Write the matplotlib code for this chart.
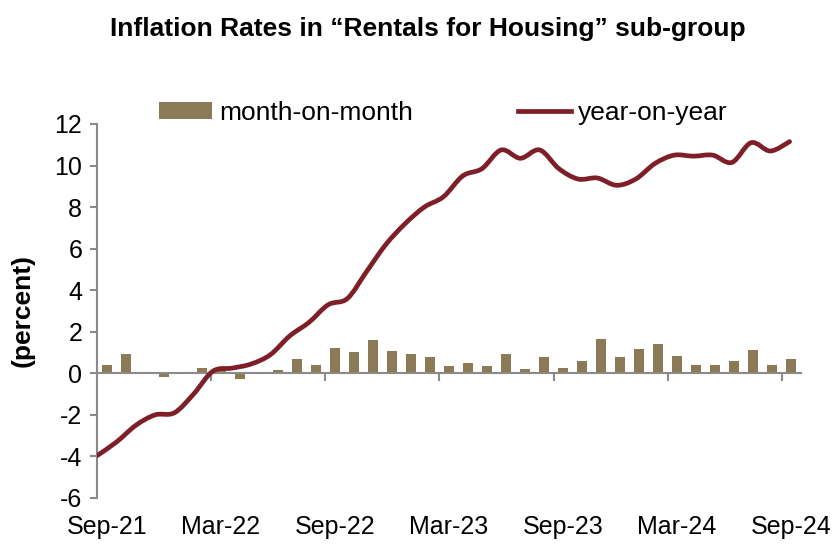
import matplotlib
matplotlib.use("Agg")
import matplotlib.pyplot as plt
from matplotlib.path import Path
from matplotlib.patches import PathPatch, Patch
from matplotlib.lines import Line2D
import numpy as np

plt.rcParams['font.family'] = ['Liberation Sans', 'DejaVu Sans']
plt.rcParams['axes.unicode_minus'] = False

# monthly data, Sep-21 .. Sep-24
mom = [0.40, 0.95, -0.02, -0.18, 0.06, 0.24, 0.15, -0.29, 0.06, 0.14,
       0.70, 0.42, 1.23, 1.04, 1.62, 1.09, 0.95, 0.77, 0.37, 0.50,
       0.35, 0.91, 0.22, 0.80, 0.27, 0.59, 1.65, 0.77, 1.15, 1.39,
       0.83, 0.38, 0.42, 0.61, 1.12, 0.40, 0.70]
yoy = [-3.95, -3.3, -2.5, -2.0, -1.9, -1.0, 0.1, 0.25, 0.45, 0.9,
       1.8, 2.45, 3.3, 3.6, 4.9, 6.2, 7.2, 8.0, 8.5, 9.5,
       9.85, 10.75, 10.35, 10.75, 9.85, 9.35, 9.4, 9.05, 9.35, 10.1,
       10.5, 10.45, 10.5, 10.15, 11.1, 10.7, 11.15]
tick_labels = ['Sep-21', 'Mar-22', 'Sep-22', 'Mar-23', 'Sep-23', 'Mar-24', 'Sep-24']

bar_color = '#8C7955'
line_color = '#7E1F28'
axis_color = '#8A8A8A'


def smooth_path(x, y):
    # bezier path through every data point (like a smoothed excel line)
    pts = np.column_stack([x, y]).astype(float)
    n = len(pts)
    verts = [pts[0]]
    codes = [Path.MOVETO]
    for i in range(n - 1):
        p0 = pts[i - 1] if i > 0 else pts[i]
        p1 = pts[i]
        p2 = pts[i + 1]
        p3 = pts[i + 2] if i + 2 < n else pts[i + 1]
        c1 = p1 + (p2 - p0) / 6.0
        c2 = p2 - (p3 - p1) / 6.0
        verts += [c1, c2, p2]
        codes += [Path.CURVE4] * 3
    return Path(verts, codes)


def main():
    fig = plt.figure(figsize=(8.38, 5.44), dpi=100)
    ax = fig.add_axes([0.1163, 0.0846, 0.8390, 0.6875])

    x = np.arange(len(mom))
    ax.bar(x, mom, width=0.5, color=bar_color, zorder=2)

    ax.set_xlim(-0.5, len(mom) - 0.5)
    ax.set_ylim(-6, 12)
    ax.set_yticks(range(-6, 13, 2))

    for s in ['top', 'right']:
        ax.spines[s].set_visible(False)
    ax.spines['bottom'].set_position(('data', 0))
    ax.spines['left'].set_color(axis_color)
    ax.spines['bottom'].set_color(axis_color)
    ax.spines['left'].set_linewidth(1.5)
    ax.spines['bottom'].set_linewidth(1.5)

    ax.set_xticks(np.arange(5.5, len(mom), 6))
    ax.tick_params(axis='x', length=6, width=1.5, color=axis_color,
                   labelbottom=False)
    ax.tick_params(axis='y', length=5, width=1.5, color=axis_color,
                   labelsize=18, pad=6)

    # date labels sit at the bottom of the plot
    sec = ax.secondary_xaxis('bottom')
    sec.spines['bottom'].set_visible(False)
    sec.set_xticks(np.arange(0, len(mom), 6))
    sec.set_xticklabels(tick_labels)
    sec.tick_params(length=0, labelsize=18, pad=12)

    ax.set_ylabel('(percent)', fontsize=19, fontweight='bold', labelpad=14)

    # year-on-year line on its own x scale (starts at the axis)
    ax2 = ax.twiny()
    ax2.set_xlim(0, 36.57)
    ax2.axis('off')
    ax2.set_ylim(-6, 12)
    patch = PathPatch(smooth_path(np.arange(len(yoy)), yoy), facecolor='none',
                      edgecolor=line_color, linewidth=3.4,
                      transform=ax2.transData, capstyle='round',
                      joinstyle='round', zorder=3)
    ax2.add_patch(patch)

    handles = [Patch(facecolor=bar_color, edgecolor='none'),
               Line2D([0], [0], color=line_color, linewidth=3.4)]
    ax.legend(handles, ['month-on-month', 'year-on-year'], loc='center',
              bbox_to_anchor=(0.492, 1.03), ncol=2, frameon=False,
              fontsize=19, handlelength=2.0, handleheight=0.6,
              handletextpad=0.25, columnspacing=4.0, borderaxespad=0)

    fig.suptitle('Inflation Rates in \u201cRentals for Housing\u201d sub-group',
                 x=0.51, y=0.968, fontsize=19, fontweight='bold')

    fig.savefig('out.png', dpi=100)


if __name__ == '__main__':
    main()
